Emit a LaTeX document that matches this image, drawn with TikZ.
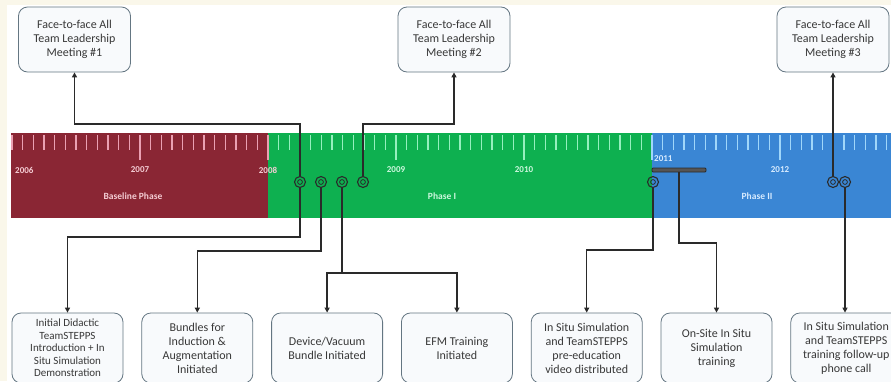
\documentclass[tikz,border=0pt]{standalone}
\usepackage{fontspec}
\setmainfont{Carlito}
\usepackage{tikz}
\usetikzlibrary{arrows.meta,positioning,calc}
\definecolor{basemaroon}{RGB}{138,38,52}
\definecolor{phasegreen}{RGB}{14,176,80}
\definecolor{phaseblue}{RGB}{58,134,212}
\definecolor{linegray}{RGB}{42,42,42}
\definecolor{boxedge}{RGB}{100,118,130}
\definecolor{boxfill}{RGB}{248,250,252}
\definecolor{pagecream}{RGB}{250,247,234}
\definecolor{tickpink}{RGB}{235,160,178}
\definecolor{tickgreen}{RGB}{150,240,190}
\definecolor{tickblue}{RGB}{160,215,250}
\definecolor{lblpink}{RGB}{245,205,212}
\definecolor{lblgreen}{RGB}{205,248,222}
\definecolor{lblblue}{RGB}{215,235,255}
\tikzset{
    evbox/.style={rectangle, draw=boxedge, fill=boxfill, thick, rounded corners=9pt,
                  minimum width=111pt, minimum height=70pt, align=center, inner sep=2pt,
                  text=black!78, font=\fontsize{12}{14}\selectfont},
    meetbox/.style={evbox, minimum width=112pt, minimum height=65pt},
    evdot/.style={circle, draw=linegray, line width=1.1pt, minimum size=11pt, inner sep=0pt,
                  path picture={\draw[linegray, line width=0.8pt]
                                (path picture bounding box.center) circle (2.4pt);}},
    simbar/.style={rectangle, draw=linegray, fill=linegray!80, line width=0.8pt,
                   rounded corners=1pt, minimum width=54pt, minimum height=4pt, inner sep=0pt},
    arr/.style={-{Triangle[length=5pt,width=5pt]}, linegray, line width=1.4pt},
    yrlbl/.style={font=\fontsize{9}{10}\selectfont\bfseries, text=#1, inner sep=1pt},
    phlbl/.style={font=\fontsize{9.5}{10}\selectfont\bfseries, text=#1, inner sep=1pt},
}
\begin{document}
\begin{tikzpicture}[x=1pt, y=-1pt, node distance=18pt]
    \useasboundingbox (0,0) rectangle (891,381);
    \fill[white] (0,0) rectangle (891,381);
    \fill[pagecream] (0,0) rectangle (891,5);
    \fill[pagecream] (0,0) rectangle (7,381);

    % timeline bar
    \fill[basemaroon] (11,133) rectangle (268,218);
    \fill[phasegreen] (268,133) rectangle (652,218);
    \fill[phaseblue]  (652,133) rectangle (891,218);

    % month ticks
    \foreach \i in {0,...,23}  \draw[tickpink,  line width=1.3pt] ({12+\i*10.6667},135) -- ++(0,15);
    \foreach \i in {24,...,59} \draw[tickgreen, line width=1.3pt] ({12+\i*10.6667},135) -- ++(0,15);
    \foreach \i in {60,...,82} \draw[tickblue,  line width=1.3pt] ({12+\i*10.6667},135) -- ++(0,15);
    % year ticks
    \foreach \i/\c in {12/tickpink, 24/tickpink, 36/tickgreen, 48/tickgreen, 60/tickblue, 72/tickblue}
        \draw[\c, line width=1.3pt] ({12+\i*10.6667},135) -- ++(0,25);

    \node[yrlbl=lblpink, anchor=west] (y2006) at (14,170)  {2006};
    \node[yrlbl=lblpink]              (y2007) at (140,170) {2007};
    \node[yrlbl=lblpink]              (y2008) at (268,170) {2008};
    \node[yrlbl=lblgreen]             (y2009) at (396,170) {2009};
    \node[yrlbl=lblgreen]             (y2010) at (524,170) {2010};
    \node[yrlbl=lblblue, anchor=west] (y2011) at (653,159) {2011};
    \node[yrlbl=lblblue]              (y2012) at (780,170) {2012};

    \node[phlbl=lblpink]  (base) at (133,196) {Baseline Phase};
    \node[phlbl=lblgreen] (ph1)  at (442,196) {Phase I};
    \node[phlbl=lblblue]  (ph2)  at (757,196) {Phase II};

    % event markers
    \node[evdot] (m1) at (300,182) {};
    \node[evdot] (m2) at (321,182) {};
    \node[evdot] (m3) at (342,182) {};
    \node[evdot] (m4) at (363,182) {};
    \node[evdot] (m5) at (653,182) {};
    \node[evdot] (m6) at (833,182) {};
    \node[evdot] (m7) at (845,182) {};
    \node[simbar] (sim) at (679,170) {};

    % leadership meetings
    \node[meetbox] (meet1) at (74.5,39.5) {Face-to-face All\\Team Leadership\\Meeting \#1};
    \node[meetbox] (meet2) at (454,39.5)  {Face-to-face All\\Team Leadership\\Meeting \#2};
    \node[meetbox] (meet3) at (833,39.5)  {Face-to-face All\\Team Leadership\\Meeting \#3};

    % interventions
    \node[evbox, font=\fontsize{11}{12.5}\selectfont]
                               (ev1) at (67.5,348) {Initial Didactic\\TeamSTEPPS\\Introduction + In\\Situ Simulation\\Demonstration};
    \node[evbox, right=of ev1] (ev2) {Bundles for\\Induction \&\\Augmentation\\Initiated};
    \node[evbox, right=of ev2] (ev3) {Device/Vacuum\\Bundle Initiated};
    \node[evbox, right=of ev3] (ev4) {EFM Training\\Initiated};
    \node[evbox, right=of ev4] (ev5) {In Situ Simulation\\and TeamSTEPPS\\pre-education\\video distributed};
    \node[evbox, right=of ev5] (ev6) {On-Site In Situ\\Simulation\\training};
    \node[evbox, right=of ev6] (ev7) {In Situ Simulation\\and TeamSTEPPS\\training follow-up\\phone call};

    \draw[arr] (m1.north) -- (m1.north |- 0,124) -| (meet1.south);
    \draw[arr] (m4.north) -- (m4.north |- 0,124) -| (meet2.south);
    \draw[arr] (m6.north) -- (m6.north |- meet3.south);

    \draw[arr] (m1.south) -- (m1.south |- 0,237) -| (ev1.north);
    \draw[arr] (m2.south) -- (m2.south |- 0,251) -| (ev2.north);
    \draw[arr] (m3.south) -- (m3.south |- 0,273) -| (ev3.north);
    \draw[arr] (m3.south |- 0,273) -| (ev4.north);
    \draw[arr] (m5.south) -- (m5.south |- 0,250) -| (ev5.north);
    \draw[arr] (sim.south) -- (sim.south |- 0,243) -| (ev6.north);
    \draw[arr] (m7.south) -- (m7.south |- ev7.north);
\end{tikzpicture}
\end{document}
